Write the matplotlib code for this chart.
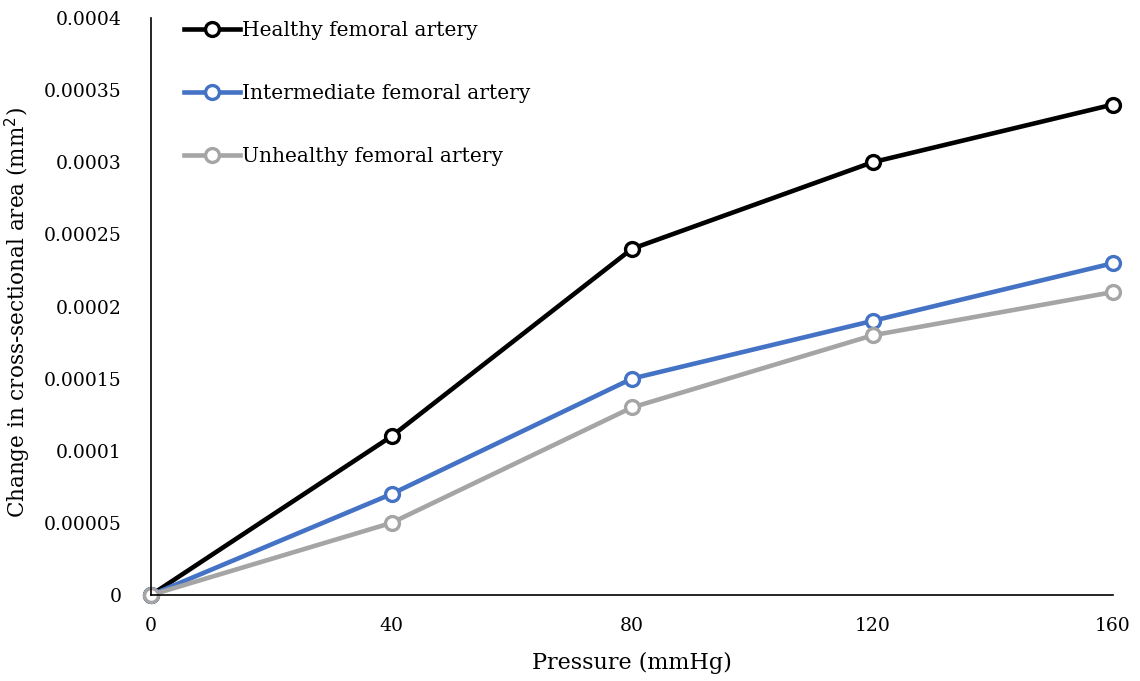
import numpy as np
import matplotlib.pyplot as plt

plt.rcParams['font.family'] = ['DejaVu Serif']

pressure = [0, 40, 80, 120, 160]
healthy = [0, 0.00011, 0.00024, 0.0003, 0.00034]
intermediate = [0, 0.00007, 0.00015, 0.00019, 0.00023]
unhealthy = [0, 0.00005, 0.00013, 0.00018, 0.00021]

y_ticks = [0, 0.00005, 0.0001, 0.00015, 0.0002, 0.00025, 0.0003, 0.00035, 0.0004]
y_tick_labels = ['0', '0.00005', '0.0001', '0.00015', '0.0002', '0.00025', '0.0003', '0.00035', '0.0004']

series = [
  ('Healthy femoral artery', healthy, '#000000'),
  ('Intermediate femoral artery', intermediate, '#4472C4'),
  ('Unhealthy femoral artery', unhealthy, '#A5A5A5'),
]

fig = plt.figure(figsize=(11.4, 6.81), dpi=100)
ax = fig.add_axes([151/1140, 86/681, 962/1140, 577/681])

for label, values, color in series:
  ax.plot(pressure, values, color=color, lw=3.3, marker='o', ms=10,
          mfc='white', mec=color, mew=2.4, label=label, clip_on=False)

ax.set_xlim(0, 160)
ax.set_ylim(0, 0.0004)
ax.set_xticks(pressure)
ax.set_yticks(y_ticks)
ax.set_yticklabels(y_tick_labels)
ax.tick_params(axis='both', length=0, labelsize=13.5)
ax.tick_params(axis='y', pad=21)
ax.tick_params(axis='x', pad=16)

for side in ['top', 'right']:
  ax.spines[side].set_visible(False)
for side in ['left', 'bottom']:
  ax.spines[side].set_linewidth(1.2)

ax.set_xlabel('Pressure (mmHg)', fontsize=16, labelpad=12)
ax.set_ylabel('Change in cross-sectional area (mm$^2$)', fontsize=15.5)
ax.yaxis.set_label_coords(-0.123, 0.49)

ax.legend(loc='upper left', bbox_to_anchor=(0.034, 0.995), frameon=False,
          fontsize=14.5, handlelength=2.8, handletextpad=0.1,
          labelspacing=2.2, borderpad=0, borderaxespad=0)

fig.savefig('out.png', dpi=100)
